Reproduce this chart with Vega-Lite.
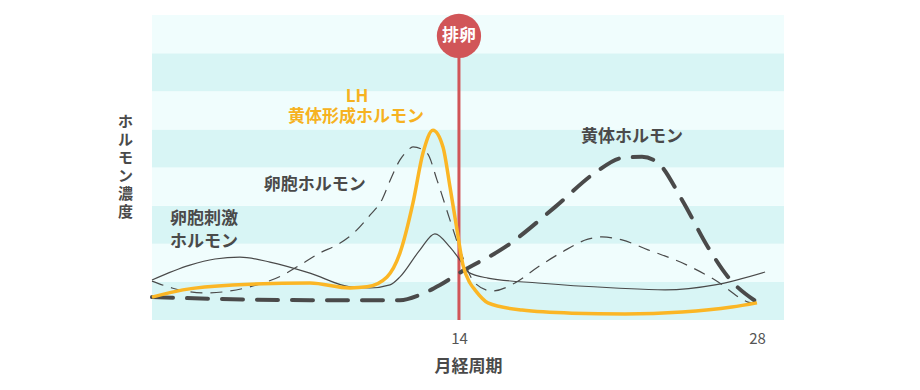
{
  "$schema": "https://vega.github.io/schema/vega-lite/v6.json",
  "width": 632,
  "height": 305,
  "autosize": "none",
  "padding": {"left": 152, "top": 15, "right": 136, "bottom": 70},
  "background": "#ffffff",
  "config": {
    "view": {"stroke": null},
    "font": "Noto Sans CJK JP",
    "axis": {"grid": false, "domain": false, "ticks": false}
  },
  "datasets": {
    "bands": [
      {"b0": 0, "b1": 1, "shade": "dark"},
      {"b0": 1, "b1": 2, "shade": "light"},
      {"b0": 2, "b1": 3, "shade": "dark"},
      {"b0": 3, "b1": 4, "shade": "light"},
      {"b0": 4, "b1": 5, "shade": "dark"},
      {"b0": 5, "b1": 6, "shade": "light"},
      {"b0": 6, "b1": 7, "shade": "dark"},
      {"b0": 7, "b1": 8, "shade": "light"}
    ],
    "curves": [
      {"s": "FSH", "d": -0.42, "v": 1.05},
      {"s": "FSH", "d": 1.36, "v": 1.44},
      {"s": "FSH", "d": 2.54, "v": 1.60},
      {"s": "FSH", "d": 3.71, "v": 1.65},
      {"s": "FSH", "d": 5.12, "v": 1.52},
      {"s": "FSH", "d": 7.00, "v": 1.23},
      {"s": "FSH", "d": 8.88, "v": 0.87},
      {"s": "FSH", "d": 9.82, "v": 0.84},
      {"s": "FSH", "d": 10.76, "v": 0.92},
      {"s": "FSH", "d": 11.23, "v": 1.13},
      {"s": "FSH", "d": 12.17, "v": 1.84},
      {"s": "FSH", "d": 12.87, "v": 2.26},
      {"s": "FSH", "d": 13.58, "v": 1.91},
      {"s": "FSH", "d": 14.05, "v": 1.57},
      {"s": "FSH", "d": 14.42, "v": 1.26},
      {"s": "FSH", "d": 15.36, "v": 1.10},
      {"s": "FSH", "d": 17.71, "v": 0.97},
      {"s": "FSH", "d": 21.33, "v": 0.84},
      {"s": "FSH", "d": 23.68, "v": 0.79},
      {"s": "FSH", "d": 26.03, "v": 0.92},
      {"s": "FSH", "d": 28.38, "v": 1.26},
      {"s": "E", "d": -0.42, "v": 1.02},
      {"s": "E", "d": 0.52, "v": 0.84},
      {"s": "E", "d": 2.07, "v": 0.71},
      {"s": "E", "d": 3.24, "v": 0.76},
      {"s": "E", "d": 4.18, "v": 0.87},
      {"s": "E", "d": 5.73, "v": 1.18},
      {"s": "E", "d": 6.53, "v": 1.44},
      {"s": "E", "d": 7.47, "v": 1.76},
      {"s": "E", "d": 8.27, "v": 1.97},
      {"s": "E", "d": 9.11, "v": 2.31},
      {"s": "E", "d": 9.82, "v": 2.75},
      {"s": "E", "d": 10.38, "v": 3.15},
      {"s": "E", "d": 10.76, "v": 3.65},
      {"s": "E", "d": 11.23, "v": 4.20},
      {"s": "E", "d": 11.56, "v": 4.43},
      {"s": "E", "d": 11.84, "v": 4.54},
      {"s": "E", "d": 12.50, "v": 4.38},
      {"s": "E", "d": 12.97, "v": 3.67},
      {"s": "E", "d": 13.58, "v": 2.62},
      {"s": "E", "d": 14.05, "v": 1.84},
      {"s": "E", "d": 14.75, "v": 0.97},
      {"s": "E", "d": 15.55, "v": 0.76},
      {"s": "E", "d": 16.63, "v": 0.97},
      {"s": "E", "d": 17.71, "v": 1.39},
      {"s": "E", "d": 18.84, "v": 1.78},
      {"s": "E", "d": 20.06, "v": 2.12},
      {"s": "E", "d": 20.72, "v": 2.18},
      {"s": "E", "d": 21.66, "v": 2.10},
      {"s": "E", "d": 22.88, "v": 1.84},
      {"s": "E", "d": 24.48, "v": 1.50},
      {"s": "E", "d": 26.03, "v": 1.05},
      {"s": "E", "d": 27.58, "v": 0.47},
      {"s": "E", "d": 27.91, "v": 0.42},
      {"s": "LH", "d": -0.42, "v": 0.60},
      {"s": "LH", "d": 1.03, "v": 0.79},
      {"s": "LH", "d": 3.38, "v": 0.92},
      {"s": "LH", "d": 7.00, "v": 0.97},
      {"s": "LH", "d": 8.88, "v": 0.84},
      {"s": "LH", "d": 9.68, "v": 0.87},
      {"s": "LH", "d": 10.62, "v": 1.13},
      {"s": "LH", "d": 11.23, "v": 1.76},
      {"s": "LH", "d": 11.84, "v": 3.07},
      {"s": "LH", "d": 12.31, "v": 4.38},
      {"s": "LH", "d": 12.78, "v": 4.98},
      {"s": "LH", "d": 13.25, "v": 4.54},
      {"s": "LH", "d": 13.58, "v": 3.49},
      {"s": "LH", "d": 13.91, "v": 2.36},
      {"s": "LH", "d": 14.19, "v": 1.44},
      {"s": "LH", "d": 14.52, "v": 0.97},
      {"s": "LH", "d": 14.75, "v": 0.79},
      {"s": "LH", "d": 15.36, "v": 0.45},
      {"s": "LH", "d": 16.96, "v": 0.26},
      {"s": "LH", "d": 19.31, "v": 0.18},
      {"s": "LH", "d": 21.80, "v": 0.16},
      {"s": "LH", "d": 24.48, "v": 0.21},
      {"s": "LH", "d": 26.82, "v": 0.34},
      {"s": "LH", "d": 28.00, "v": 0.45},
      {"s": "P", "d": -0.42, "v": 0.60},
      {"s": "P", "d": 7.00, "v": 0.52},
      {"s": "P", "d": 11.23, "v": 0.52},
      {"s": "P", "d": 12.17, "v": 0.66},
      {"s": "P", "d": 13.11, "v": 0.92},
      {"s": "P", "d": 14.19, "v": 1.29},
      {"s": "P", "d": 16.16, "v": 1.91},
      {"s": "P", "d": 18.51, "v": 2.96},
      {"s": "P", "d": 20.39, "v": 3.86},
      {"s": "P", "d": 21.66, "v": 4.25},
      {"s": "P", "d": 22.60, "v": 4.28},
      {"s": "P", "d": 23.35, "v": 4.12},
      {"s": "P", "d": 24.48, "v": 3.15},
      {"s": "P", "d": 25.70, "v": 1.91},
      {"s": "P", "d": 26.64, "v": 1.13},
      {"s": "P", "d": 28.00, "v": 0.47}
    ],
    "ovulation": [{"d": 14, "base": 0, "top": 7.45, "label": "排卵"}],
    "orangeLabels": [
      {"d": 9.21, "v": 5.85, "label": "LH"},
      {"d": 9.16, "v": 5.32, "label": "黄体形成ホルモン"}
    ],
    "grayLabels": [
      {"d": 7.23, "v": 3.54, "label": "卵胞ホルモン"},
      {"d": 22.13, "v": 4.80, "label": "黄体ホルモン"}
    ],
    "leftLabels": [
      {"d": 0.42, "v": 2.65, "label": "卵胞刺激"},
      {"d": 0.42, "v": 2.05, "label": "ホルモン"}
    ]
  },
  "layer": [
    {
      "data": {"name": "bands"},
      "mark": {"type": "rect"},
      "encoding": {
        "x": {"value": 0},
        "x2": {"value": "width"},
        "y": {"field": "b0", "type": "quantitative", "scale": {"domain": [0, 8], "nice": false},
          "axis": {"labels": false, "title": ["ホ", "ル", "モ", "ン", "濃", "度"], "titleAngle": 0, "titleX": -27, "titleY": 106,
            "titleFontSize": 15, "titleFontWeight": "bold", "titleColor": "#4a4a4a", "titleLineHeight": 18, "titleBaseline": "middle", "titleAlign": "center"}},
        "y2": {"field": "b1"},
        "color": {"field": "shade", "type": "nominal", "scale": {"domain": ["light", "dark"], "range": ["#f0fdfd", "#d8f5f5"]}, "legend": null}
      }
    },
    {
      "data": {"name": "ovulation"},
      "mark": {"type": "rule", "color": "#d15558", "strokeWidth": 3},
      "encoding": {
        "x": {"field": "d", "type": "quantitative", "scale": {"domain": [-0.42, 29.27], "nice": false, "zero": false},
          "axis": {"values": [14, 28], "labelFontSize": 15, "labelColor": "#555555", "labelPadding": 11,
            "title": "月経周期", "titleFontSize": 17, "titleFontWeight": "bold", "titleColor": "#4a4a4a", "titlePadding": 12}},
        "y": {"field": "base", "type": "quantitative"},
        "y2": {"field": "top"}
      }
    },
    {
      "data": {"name": "curves"},
      "transform": [{"filter": "datum.s === 'FSH'"}],
      "mark": {"type": "line", "interpolate": "monotone", "color": "#4a4a4a", "strokeWidth": 1.2},
      "encoding": {"x": {"field": "d", "type": "quantitative"}, "y": {"field": "v", "type": "quantitative"}}
    },
    {
      "data": {"name": "curves"},
      "transform": [{"filter": "datum.s === 'E'"}],
      "mark": {"type": "line", "interpolate": "monotone", "color": "#4a4a4a", "strokeWidth": 1.2, "strokeDash": [12, 8]},
      "encoding": {"x": {"field": "d", "type": "quantitative"}, "y": {"field": "v", "type": "quantitative"}}
    },
    {
      "data": {"name": "curves"},
      "transform": [{"filter": "datum.s === 'P'"}],
      "mark": {"type": "line", "interpolate": "monotone", "color": "#4a4a4a", "strokeWidth": 4, "strokeDash": [21, 14], "strokeCap": "round"},
      "encoding": {"x": {"field": "d", "type": "quantitative"}, "y": {"field": "v", "type": "quantitative"}}
    },
    {
      "data": {"name": "curves"},
      "transform": [{"filter": "datum.s === 'LH'"}],
      "mark": {"type": "line", "interpolate": "monotone", "color": "#fbb625", "strokeWidth": 3.5},
      "encoding": {"x": {"field": "d", "type": "quantitative"}, "y": {"field": "v", "type": "quantitative"}}
    },
    {
      "data": {"name": "ovulation"},
      "mark": {"type": "point", "shape": "circle", "filled": true, "size": 1960, "color": "#d15558", "opacity": 1},
      "encoding": {"x": {"field": "d", "type": "quantitative"}, "y": {"field": "top", "type": "quantitative"}}
    },
    {
      "data": {"name": "ovulation"},
      "mark": {"type": "text", "color": "#ffffff", "fontSize": 17, "fontWeight": "bold", "baseline": "middle", "align": "center"},
      "encoding": {"x": {"field": "d", "type": "quantitative"}, "y": {"field": "top", "type": "quantitative"}, "text": {"field": "label"}}
    },
    {
      "data": {"name": "orangeLabels"},
      "mark": {"type": "text", "color": "#f6b221", "fontSize": 17, "fontWeight": "bold", "baseline": "middle", "align": "center"},
      "encoding": {"x": {"field": "d", "type": "quantitative"}, "y": {"field": "v", "type": "quantitative"}, "text": {"field": "label"}}
    },
    {
      "data": {"name": "grayLabels"},
      "mark": {"type": "text", "color": "#4a4a4a", "fontSize": 17, "fontWeight": "bold", "baseline": "middle", "align": "center"},
      "encoding": {"x": {"field": "d", "type": "quantitative"}, "y": {"field": "v", "type": "quantitative"}, "text": {"field": "label"}}
    },
    {
      "data": {"name": "leftLabels"},
      "mark": {"type": "text", "color": "#4a4a4a", "fontSize": 17, "fontWeight": "bold", "baseline": "middle", "align": "left"},
      "encoding": {"x": {"field": "d", "type": "quantitative"}, "y": {"field": "v", "type": "quantitative"}, "text": {"field": "label"}}
    }
  ]
}
